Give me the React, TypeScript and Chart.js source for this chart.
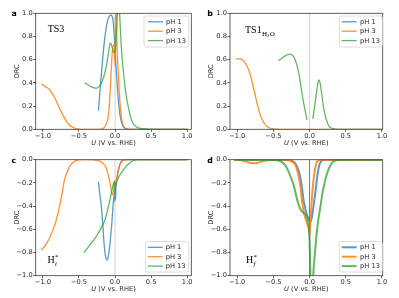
import React, { useEffect, useRef } from 'react';
import { Chart, registerables } from 'chart.js';
Chart.register(...registerables);

const SERIES_LABELS = ['pH 1', 'pH 3', 'pH 13'];
const X_TICKS = [-1.0, -0.5, 0.0, 0.5, 1.0];
const Y_TICKS_POS = [0, 0.2, 0.4, 0.6, 0.8, 1.0];
const Y_TICKS_NEG = [-1.0, -0.8, -0.6, -0.4, -0.2, 0];

// Panel a (TS3)
const A_PH1_U = [-0.23, -0.2, -0.17, -0.14, -0.11, -0.08, -0.055, -0.03, -0.01, 0.0, 0.015, 0.03, 0.05, 0.07, 0.09, 0.115, 0.15, 0.2, 0.3, 0.5, 0.75, 1.0];
const A_PH1_DRC = [0.16, 0.40, 0.62, 0.80, 0.92, 0.975, 0.985, 0.95, 0.80, 0.68, 0.52, 0.38, 0.22, 0.12, 0.06, 0.02, 0.005, 0, 0, 0, 0, 0];
const A_PH3_U = [-1.02, -0.97, -0.92, -0.87, -0.82, -0.77, -0.72, -0.67, -0.62, -0.57, -0.5, -0.4, -0.3, -0.2, -0.16, -0.13, -0.1, -0.08, -0.06, -0.04, -0.02, -0.008, 0.0, 0.006, 0.012, 0.02, 0.03, 0.045, 0.06, 0.08, 0.1, 0.13, 0.17, 0.25, 0.5, 0.75, 1.0];
const A_PH3_DRC = [0.39, 0.37, 0.35, 0.31, 0.25, 0.18, 0.12, 0.065, 0.03, 0.012, 0.002, 0, 0, 0.002, 0.01, 0.035, 0.09, 0.2, 0.42, 0.65, 0.73, 0.71, 0.55, 0.95, 1.1, 0.9, 0.66, 0.48, 0.3, 0.15, 0.06, 0.015, 0.002, 0, 0, 0, 0];
const A_PH13_U = [-0.42, -0.38, -0.34, -0.3, -0.26, -0.22, -0.18, -0.14, -0.11, -0.085, -0.065, -0.045, -0.025, -0.01, 0.01, 0.025, 0.04, 0.05, 0.06, 0.075, 0.09, 0.115, 0.14, 0.16, 0.185, 0.21, 0.25, 0.3, 0.35, 0.45, 0.6, 0.8, 1.0];
const A_PH13_DRC = [0.40, 0.385, 0.37, 0.36, 0.355, 0.37, 0.41, 0.49, 0.58, 0.68, 0.745, 0.72, 0.67, 0.66, 0.72, 0.9, 1.1, 1.2, 1.05, 0.85, 0.68, 0.5, 0.36, 0.27, 0.19, 0.12, 0.05, 0.02, 0.008, 0.002, 0, 0, 0];

// Panel b (TS1 H2O)
const B_PH1_U: number[] = [];
const B_PH1_DRC: number[] = [];
const B_PH3_U = [-1.02, -0.98, -0.94, -0.9, -0.86, -0.82, -0.78, -0.74, -0.7, -0.66, -0.62, -0.58, -0.54, -0.5, -0.4, 0, 0.5, 1.0];
const B_PH3_DRC = [0.60, 0.61, 0.605, 0.58, 0.54, 0.47, 0.37, 0.26, 0.16, 0.09, 0.045, 0.02, 0.008, 0.003, 0, 0, 0, 0];
const B_PH13_U = [-0.43, -0.38, -0.33, -0.28, -0.24, -0.2, -0.17, -0.14, -0.11, -0.08, -0.055, -0.037, 0.0, 0.045, 0.07, 0.1, 0.115, 0.13, 0.145, 0.16, 0.19, 0.22, 0.25, 0.28, 0.32, 0.36, 0.45, 0.6, 0.8, 1.0];
const B_PH13_DRC = [0.59, 0.615, 0.635, 0.648, 0.64, 0.6, 0.54, 0.45, 0.33, 0.22, 0.14, 0.08, null, 0.09, 0.2, 0.34, 0.4, 0.425, 0.4, 0.34, 0.2, 0.11, 0.05, 0.02, 0.007, 0.002, 0, 0, 0, 0];

// Panel c (H_t*)
const C_PH1_U = [-0.23, -0.21, -0.19, -0.17, -0.15, -0.13, -0.115, -0.1, -0.08, -0.06, -0.045, -0.024, -0.01, -0.003, 0.002, 0.007, 0.012, 0.02, 0.035, 0.05, 0.065, 0.08, 0.1, 0.12, 0.2, 0.5, 1.0];
const C_PH1_DRC = [-0.19, -0.3, -0.405, -0.56, -0.74, -0.84, -0.865, -0.85, -0.78, -0.66, -0.55, -0.37, -0.3, -0.36, -0.26, -0.34, -0.25, -0.2, -0.13, -0.08, -0.045, -0.02, -0.006, -0.001, 0, 0, 0];
const C_PH3_U = [-1.02, -0.97, -0.92, -0.87, -0.82, -0.78, -0.74, -0.7, -0.66, -0.62, -0.58, -0.54, -0.5, -0.4, -0.3, -0.22, -0.17, -0.13, -0.1, -0.07, -0.05, -0.035, -0.02, -0.008, 0.0, 0.008, 0.02, 0.035, 0.05, 0.07, 0.09, 0.12, 0.16, 0.25, 0.5, 1.0];
const C_PH3_DRC = [-0.78, -0.74, -0.69, -0.62, -0.53, -0.43, -0.31, -0.17, -0.1, -0.05, -0.022, -0.008, -0.002, 0, -0.002, -0.01, -0.03, -0.06, -0.12, -0.2, -0.27, -0.305, -0.27, -0.18, -0.26, -0.2, -0.17, -0.12, -0.08, -0.04, -0.02, -0.005, 0, 0, 0, 0];
const C_PH13_U = [-0.43, -0.38, -0.33, -0.28, -0.23, -0.18, -0.14, -0.11, -0.08, -0.055, -0.035, -0.02, -0.008, 0.0, 0.006, 0.015, 0.03, 0.06, 0.09, 0.12, 0.15, 0.19, 0.23, 0.27, 0.3, 0.4, 0.6, 1.0];
const C_PH13_DRC = [-0.80, -0.76, -0.72, -0.68, -0.63, -0.575, -0.52, -0.45, -0.37, -0.3, -0.24, -0.2, -0.19, -0.3, -0.22, -0.2, -0.18, -0.14, -0.11, -0.085, -0.06, -0.035, -0.015, -0.004, 0, 0, 0, 0];

// Panel d (H_f*)
const D_PH1_U = [-1.04, -0.5, -0.3, -0.24, -0.2, -0.17, -0.14, -0.11, -0.083, -0.06, -0.04, -0.02, 0.0, 0.015, 0.03, 0.05, 0.07, 0.09, 0.106, 0.125, 0.14, 0.165, 0.19, 0.25, 0.5, 1.0];
const D_PH1_DRC = [0, 0, -0.003, -0.012, -0.03, -0.065, -0.12, -0.22, -0.35, -0.42, -0.47, -0.5, -0.52, -0.53, -0.5, -0.42, -0.33, -0.23, -0.146, -0.07, -0.035, -0.01, -0.002, 0, 0, 0];
const D_PH3_U = [-1.04, -0.97, -0.9, -0.84, -0.79, -0.76, -0.72, -0.66, -0.6, -0.55, -0.45, -0.35, -0.28, -0.23, -0.19, -0.16, -0.13, -0.105, -0.085, -0.065, -0.045, -0.025, -0.01, 0.0, 0.01, 0.02, 0.03, 0.045, 0.06, 0.075, 0.09, 0.11, 0.14, 0.2, 0.5, 1.0];
const D_PH3_DRC = [0, -0.003, -0.012, -0.024, -0.03, -0.031, -0.028, -0.016, -0.006, -0.002, 0, 0, -0.005, -0.02, -0.05, -0.12, -0.22, -0.35, -0.44, -0.49, -0.53, -0.57, -0.6, -0.65, -0.55, -0.45, -0.35, -0.23, -0.146, -0.08, -0.035, -0.012, -0.002, 0, 0, 0];
const D_PH13_U = [-1.04, -0.6, -0.5, -0.44, -0.39, -0.34, -0.3, -0.26, -0.23, -0.2, -0.17, -0.145, -0.125, -0.1, -0.08, -0.06, -0.04, -0.025, -0.01, 0.0, 0.012, 0.03, 0.05, 0.075, 0.1, 0.125, 0.15, 0.18, 0.2, 0.23, 0.26, 0.29, 0.32, 0.36, 0.42, 0.6, 1.0];
const D_PH13_DRC = [0, 0, -0.002, -0.006, -0.017, -0.045, -0.09, -0.15, -0.2, -0.27, -0.35, -0.4, -0.43, -0.45, -0.46, -0.47, -0.49, -0.52, -0.58, -0.7, -1.0, -1.4, -1.0, -0.8, -0.62, -0.5, -0.4, -0.28, -0.22, -0.14, -0.085, -0.045, -0.02, -0.005, 0, 0, 0];

const COLORS = ['rgba(31,119,180,0.75)', 'rgba(255,127,14,0.85)', 'rgba(44,160,44,0.75)'];
const SANS = '"DejaVu Sans"';
const SERIF = '"Liberation Serif"';
const FS = 6.7;

const zip = (u: number[], v: (number | null)[]) => u.map((x, i) => ({ x, y: v[i] }));
const fmt = (v: number) => (v < -1e-9 ? '\u2212' : '') + Math.abs(v).toFixed(1);

function drawTS3(ctx: CanvasRenderingContext2D) {
  ctx.fillStyle = '#000';
  ctx.font = `10px ${SERIF}`;
  ctx.fillText('TS3', 47.7, 31.7);
}
function drawTS1(ctx: CanvasRenderingContext2D) {
  ctx.fillStyle = '#000';
  let x = 45;
  ctx.font = `10px ${SERIF}`;
  ctx.fillText('TS1', x, 33.3);
  x += ctx.measureText('TS1').width + 0.3;
  ctx.font = `7px ${SERIF}`;
  ctx.fillText('H', x, 35.8);
  x += ctx.measureText('H').width;
  ctx.font = `5px ${SERIF}`;
  ctx.fillText('2', x, 37.3);
  x += ctx.measureText('2').width + 0.3;
  ctx.font = `7px ${SERIF}`;
  ctx.fillText('O', x, 35.8);
}
function drawH(sub: string) {
  return (ctx: CanvasRenderingContext2D, x0: number) => {
    ctx.fillStyle = '#000';
    ctx.font = `10px ${SERIF}`;
    ctx.fillText('H', x0, 115);
    const x = x0 + ctx.measureText('H').width + 0.3;
    ctx.font = `italic 7px ${SERIF}`;
    ctx.fillText(sub, x, 117.6);
    ctx.font = `7px ${SERIF}`;
    ctx.fillText('*', x, 111.2);
  };
}

type PanelCfg = {
  key: string; left: number; top: number; w: number; h: number;
  area: { left: number; top: number; right: number; bottom: number };
  xmin: number; xmax: number; ymin: number; ymax: number; yticks: number[];
  series: { u: number[]; v: (number | null)[] }[];
  lw: number; vline: string; letter: string; letterPos: [number, number];
  ylabX: number; xlabY: number;
  legend: { x: number; y: number; w: number; h: number; lx: number; tx: number };
  annot: (ctx: CanvasRenderingContext2D) => void;
};

const PANELS: PanelCfg[] = [
  {
    key: 'a', left: 0, top: 0, w: 200, h: 148,
    area: { left: 35.7, top: 13.3, right: 191.3, bottom: 129.3 },
    xmin: -1.1, xmax: 1.057, ymin: 0, ymax: 1, yticks: Y_TICKS_POS,
    series: [{ u: A_PH1_U, v: A_PH1_DRC }, { u: A_PH3_U, v: A_PH3_DRC }, { u: A_PH13_U, v: A_PH13_DRC }],
    lw: 1.3, vline: 'rgba(0,0,0,0.18)', letter: 'a', letterPos: [11.5, 16.3], ylabX: 17.3, xlabY: 145,
    legend: { x: 144, y: 16, w: 44.7, h: 31, lx: 148, tx: 166 },
    annot: drawTS3,
  },
  {
    key: 'b', left: 200, top: 0, w: 199, h: 148,
    area: { left: 30, top: 13.3, right: 182.7, bottom: 129.3 },
    xmin: -1.1, xmax: 1.01, ymin: 0, ymax: 1, yticks: Y_TICKS_POS,
    series: [{ u: B_PH1_U, v: B_PH1_DRC }, { u: B_PH3_U, v: B_PH3_DRC }, { u: B_PH13_U, v: B_PH13_DRC }],
    lw: 1.3, vline: 'rgba(0,0,0,0.18)', letter: 'b', letterPos: [7.3, 16.3], ylabX: 11.7, xlabY: 145,
    legend: { x: 139.3, y: 16, w: 43, h: 31, lx: 141.7, tx: 160 },
    annot: drawTS1,
  },
  {
    key: 'c', left: 0, top: 148, w: 200, h: 150,
    area: { left: 35.7, top: 11.7, right: 191.3, bottom: 127.7 },
    xmin: -1.1, xmax: 1.057, ymin: -1, ymax: 0, yticks: Y_TICKS_NEG,
    series: [{ u: C_PH1_U, v: C_PH1_DRC }, { u: C_PH3_U, v: C_PH3_DRC }, { u: C_PH13_U, v: C_PH13_DRC }],
    lw: 1.3, vline: 'rgba(0,0,0,0.18)', letter: 'c', letterPos: [11.5, 15], ylabX: 17.3, xlabY: 143,
    legend: { x: 145.7, y: 93.5, w: 43, h: 30.5, lx: 147.7, tx: 165.7 },
    annot: (ctx) => drawH('t')(ctx, 47.5),
  },
  {
    key: 'd', left: 200, top: 148, w: 199, h: 150,
    area: { left: 30, top: 11.7, right: 182.7, bottom: 127.7 },
    xmin: -1.1, xmax: 1.01, ymin: -1, ymax: 0, yticks: Y_TICKS_NEG,
    series: [{ u: D_PH1_U, v: D_PH1_DRC }, { u: D_PH3_U, v: D_PH3_DRC }, { u: D_PH13_U, v: D_PH13_DRC }],
    lw: 2, vline: 'rgba(0,0,0,0.55)', letter: 'd', letterPos: [7.3, 15], ylabX: 11.7, xlabY: 143,
    legend: { x: 139.3, y: 93.5, w: 43, h: 30.5, lx: 141.7, tx: 160 },
    annot: (ctx) => drawH('f')(ctx, 46),
  },
];

function makePlugin(p: PanelCfg) {
  return {
    id: 'deco_' + p.key,
    beforeDatasetsDraw(chart: any) {
      const { ctx, chartArea: ca, scales } = chart;
      const x0 = scales.x.getPixelForValue(0);
      ctx.save();
      ctx.strokeStyle = p.vline;
      ctx.lineWidth = 1;
      ctx.beginPath();
      ctx.moveTo(x0, ca.top);
      ctx.lineTo(x0, ca.bottom);
      ctx.stroke();
      ctx.restore();
    },
    afterDraw(chart: any) {
      const { ctx, chartArea: ca } = chart;
      ctx.save();
      // frame
      ctx.strokeStyle = '#3a3a3a';
      ctx.lineWidth = 0.8;
      ctx.strokeRect(ca.left, ca.top, ca.right - ca.left, ca.bottom - ca.top);
      // legend
      const L = p.legend;
      ctx.beginPath();
      if ((ctx as any).roundRect) (ctx as any).roundRect(L.x, L.y, L.w, L.h, 2);
      else ctx.rect(L.x, L.y, L.w, L.h);
      ctx.fillStyle = 'rgba(255,255,255,0.85)';
      ctx.fill();
      ctx.strokeStyle = '#d4d4d4';
      ctx.lineWidth = 0.8;
      ctx.stroke();
      ctx.font = `${FS}px ${SANS}`;
      ctx.textBaseline = 'middle';
      SERIES_LABELS.forEach((lab, i) => {
        const yy = L.y + 5.8 + i * 9.4;
        ctx.strokeStyle = COLORS[i];
        ctx.lineWidth = p.lw;
        ctx.beginPath();
        ctx.moveTo(L.lx, yy);
        ctx.lineTo(L.lx + 15, yy);
        ctx.stroke();
        ctx.fillStyle = '#262626';
        ctx.fillText(lab, L.tx, yy + 0.3);
      });
      // x title
      ctx.textBaseline = 'alphabetic';
      ctx.font = `italic ${FS}px ${SANS}`;
      const w1 = ctx.measureText('U').width;
      ctx.font = `${FS}px ${SANS}`;
      const rest = ' (V vs. RHE)';
      const w2 = ctx.measureText(rest).width;
      const cx = (ca.left + ca.right) / 2;
      const sx = cx - (w1 + w2) / 2;
      ctx.fillStyle = '#262626';
      ctx.font = `italic ${FS}px ${SANS}`;
      ctx.fillText('U', sx, p.xlabY);
      ctx.font = `${FS}px ${SANS}`;
      ctx.fillText(rest, sx + w1, p.xlabY);
      // y title
      ctx.save();
      ctx.translate(p.ylabX, (ca.top + ca.bottom) / 2);
      ctx.rotate(-Math.PI / 2);
      ctx.textAlign = 'center';
      ctx.textBaseline = 'middle';
      ctx.fillText('DRC', 0, 0);
      ctx.restore();
      // panel letter
      ctx.font = `bold 7.8px ${SANS}`;
      ctx.fillStyle = '#000';
      ctx.fillText(p.letter, p.letterPos[0], p.letterPos[1]);
      // annotation
      p.annot(ctx);
      ctx.restore();
    },
  };
}

function Panel({ p }: { p: PanelCfg }) {
  const ref = useRef<HTMLCanvasElement | null>(null);
  useEffect(() => {
    if (!ref.current) return;
    const datasets = p.series
      .map((s, i) => ({
        label: SERIES_LABELS[i],
        data: zip(s.u, s.v),
        borderColor: COLORS[i],
        backgroundColor: COLORS[i],
        borderWidth: p.lw,
        pointRadius: 0,
        fill: false,
        cubicInterpolationMode: 'monotone' as const,
        spanGaps: false,
        order: 2 - i,
      }));
    const tickFont = { family: 'DejaVu Sans', size: FS };
    const chart = new Chart(ref.current, {
      type: 'line',
      data: { datasets },
      options: {
        animation: false,
        responsive: false,
        devicePixelRatio: 1,
        events: [],
        parsing: false,
        layout: { padding: { left: 0, top: p.area.top, right: p.w - p.area.right, bottom: 0 } },
        plugins: { legend: { display: false }, tooltip: { enabled: false } },
        scales: {
          x: {
            type: 'linear',
            min: p.xmin,
            max: p.xmax,
            afterBuildTicks: (s: any) => { s.ticks = X_TICKS.map((v) => ({ value: v })); },
            afterFit: (s: any) => { s.height = p.h - p.area.bottom; },
            ticks: { callback: (v: any) => fmt(Number(v)), font: tickFont, color: '#262626', padding: 0.5, maxRotation: 0, autoSkip: false },
            grid: { display: true, drawOnChartArea: false, drawTicks: true, tickLength: 2.5, tickColor: '#3a3a3a', lineWidth: 0.8 },
            border: { display: false },
          },
          y: {
            type: 'linear',
            min: p.ymin,
            max: p.ymax,
            afterBuildTicks: (s: any) => { s.ticks = p.yticks.map((v) => ({ value: v })); },
            afterFit: (s: any) => { s.width = p.area.left; },
            ticks: { callback: (v: any) => fmt(Number(v)), font: tickFont, color: '#262626', padding: 0.5, autoSkip: false },
            grid: { display: true, drawOnChartArea: false, drawTicks: true, tickLength: 2.5, tickColor: '#3a3a3a', lineWidth: 0.8 },
            border: { display: false },
          },
        },
      } as any,
      plugins: [makePlugin(p)],
    });
    return () => chart.destroy();
  }, []);
  return (
    <canvas
      ref={ref}
      width={p.w}
      height={p.h}
      style={{ position: 'absolute', left: p.left, top: p.top, width: p.w, height: p.h, display: 'block' }}
    />
  );
}

export default function App() {
  return (
    <div style={{ position: 'fixed', left: 0, top: 0, width: 399, height: 298, background: '#fff', overflow: 'hidden' }}>
      {PANELS.map((p) => (
        <Panel key={p.key} p={p} />
      ))}
    </div>
  );
}
